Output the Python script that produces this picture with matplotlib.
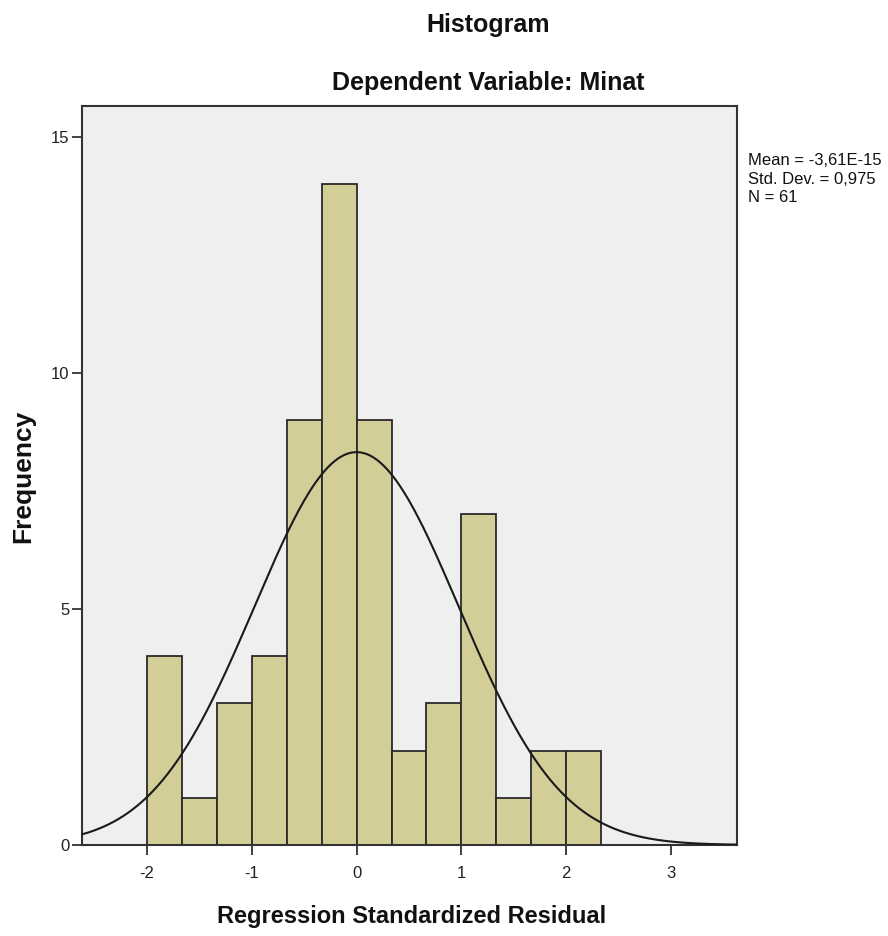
import numpy as np
import matplotlib
matplotlib.use("Agg")
import matplotlib.pyplot as plt

plt.rcParams['font.family'] = ['Liberation Sans', 'DejaVu Sans']

# Data
bin_start = -2.0
bin_width = 1/3
counts = [4, 1, 3, 4, 9, 14, 9, 2, 3, 7, 1, 2, 2]
mean_val = -3.61e-15
std_val = 0.975
n_val = 61
x_ticks = [-2, -1, 0, 1, 2, 3]
y_ticks = [0, 5, 10, 15]

fig = plt.figure(figsize=(8.88, 9.36), dpi=100)
ax = fig.add_axes([82/888, 1-845/936, (737-82)/888, (845-106)/936])
ax.set_facecolor('#EFEFEF')

edges = bin_start + bin_width*np.arange(len(counts)+1)
ax.bar(edges[:-1], counts, width=bin_width, align='edge', color='#D3CE97',
       edgecolor='#2a2a2a', linewidth=1.3, zorder=2)

xs = np.linspace(-2.62, 3.63, 400)
ys = n_val*bin_width/(std_val*np.sqrt(2*np.pi))*np.exp(-0.5*((xs-mean_val)/std_val)**2)
ax.plot(xs, ys, color='#1a1a1a', linewidth=1.5, zorder=3)

ax.set_xlim(-2.62, 3.63)
ax.set_ylim(0, 15.65)
ax.set_xticks(x_ticks)
ax.set_xticklabels([str(t) for t in x_ticks])
ax.set_yticks(y_ticks)
ax.set_yticklabels([str(t) for t in y_ticks])
ax.tick_params(axis='both', labelsize=12, length=7, width=1.3, color='#333333', labelcolor='#222222')
ax.tick_params(axis='x', pad=8)
ax.tick_params(axis='y', pad=2)
for s in ax.spines.values():
    s.set_linewidth(1.5)
    s.set_color('#333333')

fig.text(488/888, 1-25/936, 'Histogram', ha='center', va='center', fontsize=18, fontweight='bold', color='#111111')
fig.text(488/888, 1-83/936, 'Dependent Variable: Minat', ha='center', va='center', fontsize=18, fontweight='bold', color='#111111')
fig.text(412/888, 1-917/936, 'Regression Standardized Residual', ha='center', va='center', fontsize=17, fontweight='bold', color='#111111')
fig.text(23/888, 1-476/936, 'Frequency', ha='center', va='center', rotation=90, fontsize=19, fontweight='bold', color='#111111')
fig.text(748/888, 1-153/936, 'Mean = -3,61E-15\nStd. Dev. = 0,975\nN = 61', ha='left', va='top', fontsize=12, linespacing=1.3, color='#111111')

fig.savefig('out.png', dpi=100)
